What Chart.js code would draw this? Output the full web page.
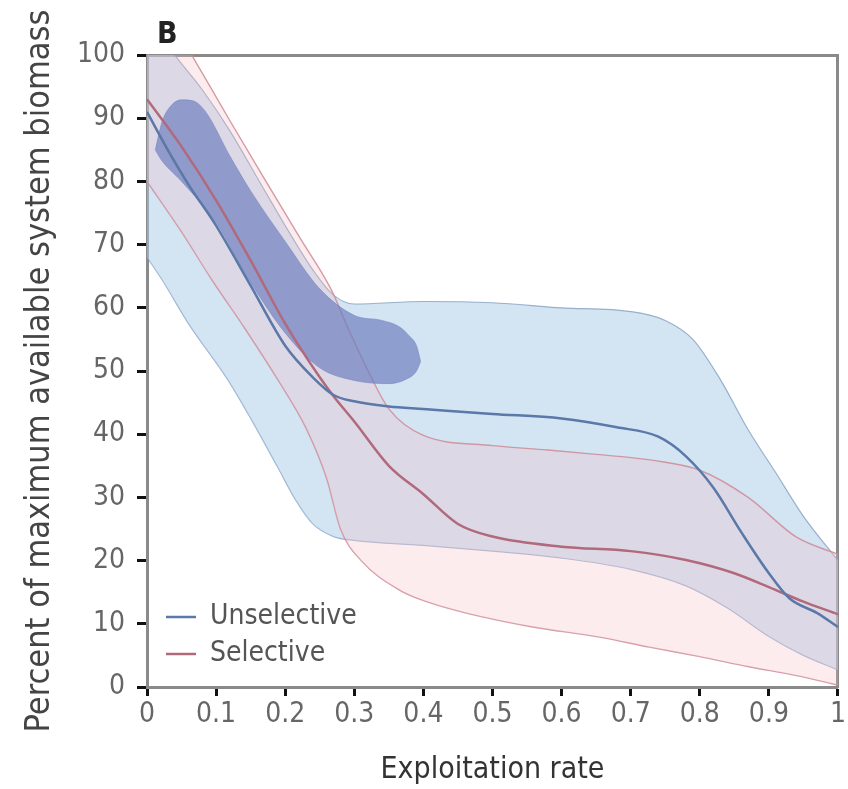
<!DOCTYPE html>
<html><head><meta charset="utf-8">
<script src="https://cdn.jsdelivr.net/npm/chart.js@4"></script>
<style>html,body{margin:0;padding:0;background:#fff;}canvas{display:block}</style>
</head><body>
<canvas id="c" width="848" height="789"></canvas>
<script>
const xTickLabels = ['0','0.1','0.2','0.3','0.4','0.5','0.6','0.7','0.8','0.9','1'];
const yTickLabels = ['0','10','20','30','40','50','60','70','80','90','100'];
const seriesNames = ['Unselective','Selective'];
const panelLabel = 'B';
const xTitle = 'Exploitation rate';
const yTitle = 'Percent of maximum available system biomass';

// mean lines
const unselectiveX = [0, 0.03, 0.06, 0.1, 0.15, 0.2, 0.24, 0.27, 0.3, 0.35, 0.4, 0.5, 0.6, 0.68, 0.74, 0.78, 0.82, 0.86, 0.9, 0.93, 0.97, 1];
const unselectiveY = [91, 85, 79.5, 73, 63.5, 54, 49, 46.2, 45.2, 44.4, 44, 43.2, 42.5, 41.1, 39.6, 36.5, 31.5, 24.5, 18, 14, 11.7, 9.5];
const selectiveX = [0, 0.05, 0.1, 0.15, 0.2, 0.25, 0.27, 0.3, 0.35, 0.4, 0.45, 0.5, 0.6, 0.7, 0.78, 0.85, 0.9, 0.95, 1];
const selectiveY = [93, 85.5, 77, 67.5, 57.5, 49, 46, 42, 35, 30.5, 25.8, 23.8, 22.2, 21.5, 20.1, 18, 15.8, 13.5, 11.5];

// unselective envelope
const unselUpperX = [0, 0.04, 0.08, 0.12, 0.16, 0.2, 0.24, 0.27, 0.3, 0.4, 0.5, 0.6, 0.7, 0.75, 0.79, 0.83, 0.87, 0.91, 0.95, 1];
const unselUpperY = [106, 100, 94.5, 88, 80.5, 73, 66, 62, 60.6, 61, 60.8, 60, 59.4, 58, 55, 48.6, 40.7, 33.9, 27, 20];
const unselLowerX = [0, 0.022, 0.06, 0.117, 0.15, 0.189, 0.215, 0.24, 0.27, 0.3, 0.4, 0.5, 0.6, 0.7, 0.78, 0.84, 0.9, 0.95, 1];
const unselLowerY = [68, 64.4, 57.5, 48.6, 42.5, 34.8, 29.6, 25.8, 23.8, 23.2, 22.4, 21.5, 20.4, 18.6, 16, 12.5, 8, 5, 2.7];

// selective envelope
const selUpperX = [0, 0.069, 0.12, 0.17, 0.22, 0.267, 0.29, 0.32, 0.35, 0.4, 0.5, 0.58, 0.65, 0.73, 0.8, 0.87, 0.94, 1];
const selUpperY = [112, 99.2, 89.6, 80.4, 71.3, 62.8, 57, 50, 44, 39.8, 38.2, 37.5, 36.8, 35.9, 34.3, 30, 23.7, 21];
const selLowerX = [0, 0.05, 0.094, 0.14, 0.19, 0.23, 0.26, 0.28, 0.31, 0.366, 0.41, 0.462, 0.558, 0.655, 0.727, 0.8, 0.871, 0.94, 1];
const selLowerY = [80, 72, 64.4, 57, 48.5, 41, 33, 25, 20, 15.3, 13.3, 11.7, 9.5, 7.9, 6.3, 4.8, 3.2, 1.8, 0.3];

// dense region (dark blob)
const blobUpperX = [0.012, 0.022, 0.035, 0.05, 0.065, 0.085, 0.12, 0.15, 0.2, 0.25, 0.3, 0.34, 0.365, 0.38, 0.39, 0.396];
const blobUpperY = [85, 89.5, 92, 92.9, 92.8, 91, 84, 78.5, 70.5, 63, 58.8, 58, 57, 55.5, 54, 51.5];
const blobLowerX = [0.012, 0.02, 0.05, 0.1, 0.15, 0.2, 0.25, 0.3, 0.35, 0.375, 0.39, 0.396];
const blobLowerY = [85, 83.5, 80, 73.5, 64, 56, 50.5, 48.5, 48, 48.7, 50, 51.5];

const FONT = "'Liberation Sans Narrow','DejaVu Sans Condensed','Arial Narrow',sans-serif";
const pts = (xs, ys) => xs.map((x, i) => ({x: x, y: ys[i]}));
const base = {pointRadius: 0, pointHoverRadius: 0, cubicInterpolationMode: 'monotone'};

const panelPlugin = {
  id: 'panelLabel',
  afterLayout(chart) {
    const lg = chart.legend, ca = chart.chartArea;
    if (lg && ca) {
      lg.top = ca.top;
      lg.bottom = ca.bottom - 10;
      lg.left = ca.left + 10;
    }
  },
  afterDraw(chart) {
    const ctx = chart.ctx;
    ctx.save();
    ctx.font = 'bold 30px ' + FONT;
    ctx.fillStyle = '#222';
    ctx.textBaseline = 'alphabetic';
    ctx.fillText(panelLabel, 157, 43);
    ctx.restore();
  }
};

const frameAxis = (axis, position) => ({
  type: 'linear', axis: axis, position: position,
  min: 0, max: axis === 'x' ? 1 : 100,
  grid: {display: false, drawTicks: false},
  ticks: {display: false},
  border: {display: true, color: '#8a8a8a', width: 3},
  afterFit: s => { if (axis === 'x') s.height = 0; else s.width = 0; }
});

new Chart(document.getElementById('c'), {
  type: 'line',
  data: {
    datasets: [
      Object.assign({}, base, {label: seriesNames[0], data: pts(unselectiveX, unselectiveY), borderColor: '#5a78a8', borderWidth: 2.5, fill: false, order: 1}),
      Object.assign({}, base, {label: seriesNames[1], data: pts(selectiveX, selectiveY), borderColor: '#b06a7c', borderWidth: 2.5, fill: false, order: 1}),
      Object.assign({}, base, {label: 'u-up', data: pts(unselUpperX, unselUpperY), borderColor: 'rgba(120,150,185,0.7)', borderWidth: 1.2, backgroundColor: 'rgba(168,202,232,0.5)', fill: 3, order: 6}),
      Object.assign({}, base, {label: 'u-lo', data: pts(unselLowerX, unselLowerY), borderColor: 'rgba(120,150,185,0.7)', borderWidth: 1.2, fill: false, order: 6}),
      Object.assign({}, base, {label: 's-up', data: pts(selUpperX, selUpperY), borderColor: 'rgba(205,140,150,0.85)', borderWidth: 1.4, backgroundColor: 'rgba(246,186,192,0.27)', fill: 5, order: 4}),
      Object.assign({}, base, {label: 's-lo', data: pts(selLowerX, selLowerY), borderColor: 'rgba(205,140,150,0.85)', borderWidth: 1.4, fill: false, order: 4}),
      Object.assign({}, base, {label: 'b-up', data: pts(blobUpperX, blobUpperY), borderColor: 'rgba(110,128,190,0.5)', borderWidth: 1, backgroundColor: 'rgba(108,126,190,0.68)', fill: 7, order: 3}),
      Object.assign({}, base, {label: 'b-lo', data: pts(blobLowerX, blobLowerY), borderColor: 'rgba(110,128,190,0.5)', borderWidth: 1, fill: false, order: 3})
    ]
  },
  options: {
    responsive: false,
    devicePixelRatio: 1,
    animation: false,
    events: [],
    layout: {padding: {top: 55, right: 10, bottom: 0, left: 0}},
    plugins: {
      tooltip: {enabled: false},
      title: {display: false},
      legend: {
        position: 'chartArea', align: 'end',
        labels: {
          filter: item => item.datasetIndex < 2,
          usePointStyle: true, pointStyle: 'line', pointStyleWidth: 30,
          padding: 9, color: '#555', font: {family: FONT, size: 28}
        }
      }
    },
    scales: {
      x: {
        type: 'linear', position: 'bottom', min: 0, max: 1,
        border: {display: true, color: '#8a8a8a', width: 3},
        grid: {display: true, drawOnChartArea: false, drawTicks: true, tickLength: 9, tickColor: '#111', tickWidth: 3},
        ticks: {stepSize: 0.1, autoSkip: false, maxRotation: 0, padding: 2, color: '#666', font: {family: FONT, size: 28},
          callback: (v, i) => xTickLabels[i]},
        title: {display: true, text: xTitle, color: '#333', font: {family: FONT, size: 30}, padding: {top: 0, bottom: 1}},
        afterFit: s => { s.height = 102; }
      },
      y: {
        type: 'linear', position: 'left', min: 0, max: 100,
        border: {display: true, color: '#8a8a8a', width: 3},
        grid: {display: true, drawOnChartArea: false, drawTicks: true, tickLength: 10, tickColor: '#111', tickWidth: 3},
        ticks: {stepSize: 10, autoSkip: false, padding: 12, color: '#666', font: {family: FONT, size: 28},
          callback: (v, i) => yTickLabels[i]},
        title: {display: true, text: yTitle, color: '#444', font: {family: FONT, size: 34}, padding: {top: 20, bottom: 0}},
        afterFit: s => { s.width = 147; }
      },
      x2: frameAxis('x', 'top'),
      y2: frameAxis('y', 'right')
    }
  },
  plugins: [panelPlugin]
});
</script>
</body></html>
